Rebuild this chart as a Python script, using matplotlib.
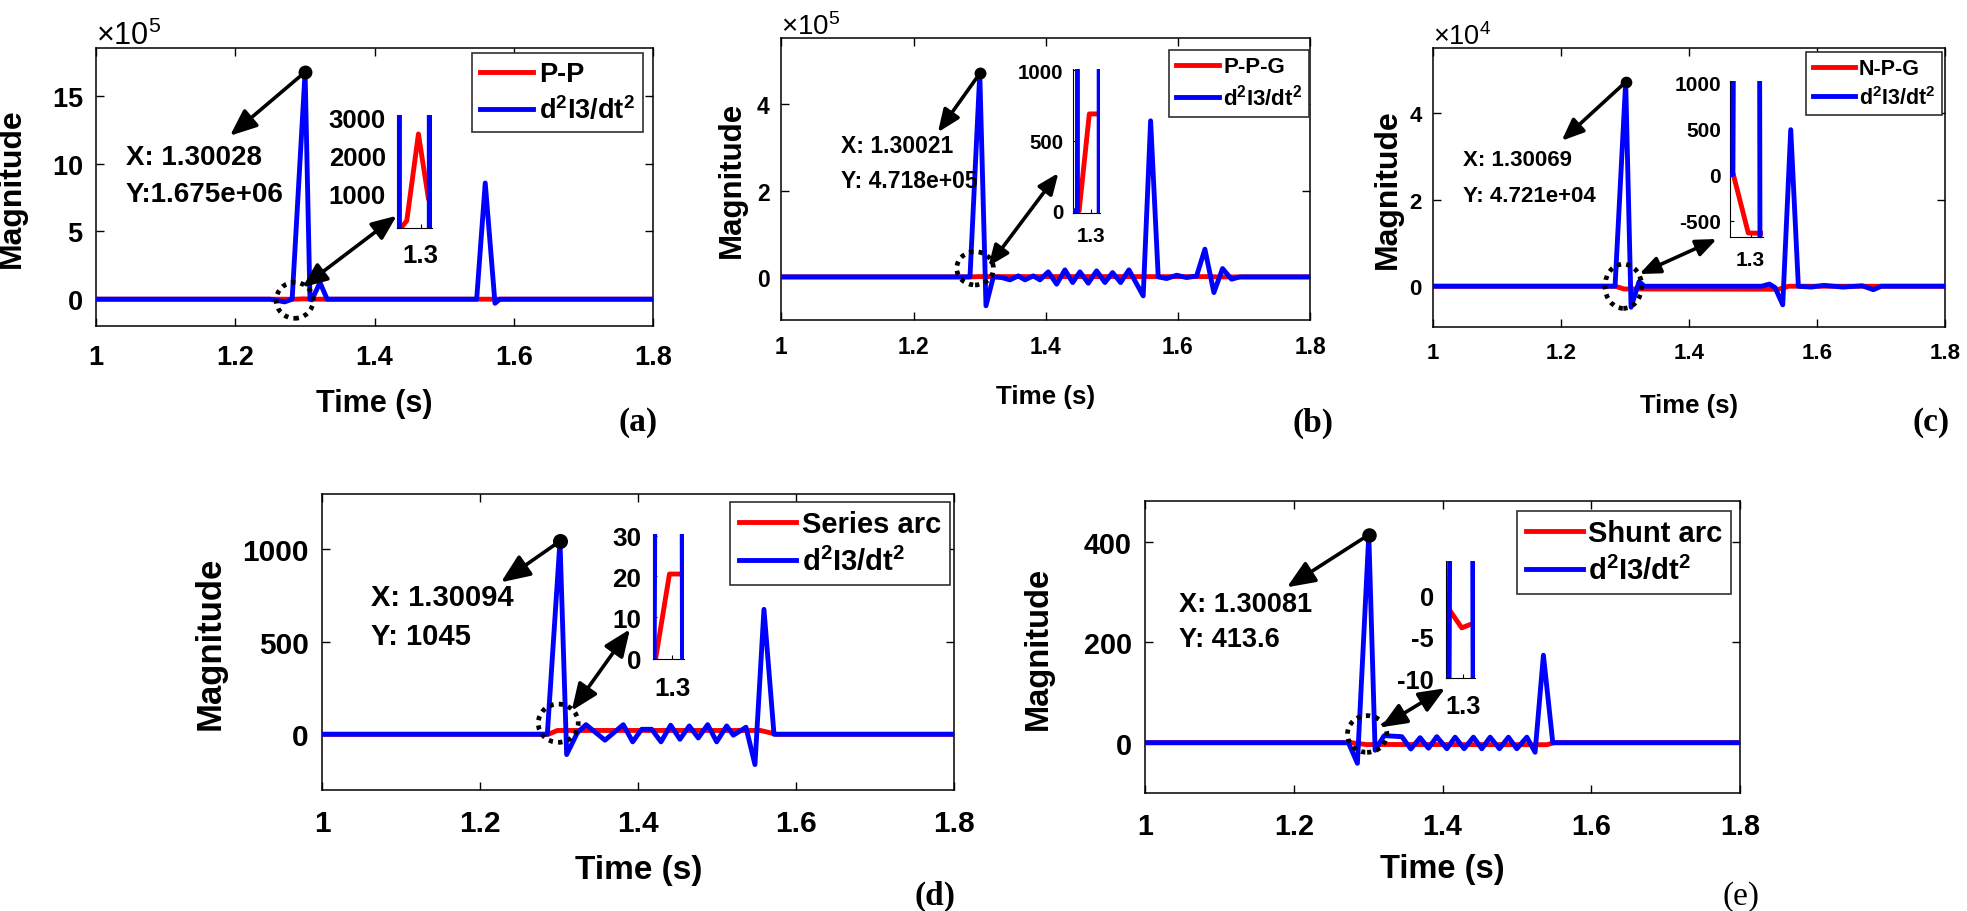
import matplotlib
matplotlib.use("Agg")
import numpy as np
import matplotlib.pyplot as plt
from matplotlib.patches import Ellipse
from matplotlib.ticker import ScalarFormatter, FuncFormatter

plt.rcParams["font.family"] = ["Liberation Sans", "DejaVu Sans"]
plt.rcParams["font.weight"] = "bold"
plt.rcParams["mathtext.default"] = "regular"
plt.rcParams["axes.unicode_minus"] = False

# ---------------- data ----------------
# (a) P-P fault
a_red_t = [1.0, 1.2800, 1.2880, 1.2980, 1.3066, 1.3150, 1.3300, 1.8]
a_red_v = [0, 0, 303, 2566, 870, 400, 0, 0]
a_blue_t = [1.0, 1.2500, 1.2710, 1.2817, 1.30028, 1.3073, 1.3100, 1.3217, 1.3320,
            1.5467, 1.5590, 1.5730, 1.5800, 1.8]
a_blue_v = [0, 0, -0.2e5, 0, 1.675e6, 0, -0.05e5, 1.23e5, 0,
            0, 8.57e5, -0.3e5, 0, 0]

# (b) P-P-G fault
b_red_t = [1.0, 1.2872, 1.2980, 1.6500, 1.6600, 1.8]
b_red_v = [0, 0, 690, 690, 0, 0]
b_blue_t = [1.0, 1.2854, 1.30021, 1.3096, 1.3207, 1.3333, 1.3459, 1.3584, 1.3686,
            1.3811, 1.3912, 1.4038, 1.4165, 1.4290, 1.4407, 1.4517, 1.4643, 1.4769,
            1.4895, 1.5011, 1.5132, 1.5258, 1.5474, 1.5586, 1.5701, 1.5828, 1.5979,
            1.6130, 1.6281, 1.6407, 1.6543, 1.6674, 1.6810, 1.6936, 1.8]
b_blue_v_1e5 = [0, 0, 4.718, -0.67, 0, -0.015, -0.069, 0.024, -0.069,
                0.024, -0.069, 0.117, -0.169, 0.163, -0.131, 0.117, -0.146, 0.140,
                -0.131, 0.101, -0.131, 0.163, -0.44, 3.62, 0, -0.038, 0.039,
                -0.015, 0.02, 0.643, -0.363, 0.194, -0.053, 0, 0]

# (c) N-P-G fault
c_red_t = [1.0, 1.2845, 1.2979, 1.5400, 1.5550, 1.8]
c_red_v = [0, 0, -633, -700, 0, 0]
c_blue_t = [1.0, 1.2841, 1.30069, 1.3091, 1.3216, 1.3300, 1.5132, 1.5252, 1.5340,
            1.5460, 1.5585, 1.5704, 1.5900, 1.6100, 1.6400, 1.6700, 1.6876, 1.7000, 1.8]
c_blue_v_1e4 = [0, 0, 4.721, -0.486, 0.107, 0, 0, 0.05, -0.03,
                -0.43, 3.62, 0, -0.02, 0.02, -0.02, 0.01, -0.08, 0, 0]

# (d) series arc
d_red_t = [1.0, 1.2862, 1.2977, 1.5550, 1.5750, 1.8]
d_red_v = [0, 0, 20.6, 20.6, 0, 0]
d_blue_t = [1.0, 1.2849, 1.30094, 1.3094, 1.3229, 1.3339, 1.3579, 1.3811, 1.3930,
            1.4044, 1.4171, 1.4289, 1.4411, 1.4529, 1.4647, 1.4761, 1.4880, 1.4994,
            1.5121, 1.5205, 1.5365, 1.5479, 1.5593, 1.5720, 1.8]
d_blue_v = [0, 0, 1045, -110, 8, 52, -32, 52, -41, 27, 27, -41, 49, -27, 45, -20,
            52, -41, 45, -5, 38, -164, 676, 0, 0]

# (e) shunt arc
e_red_t = [1.0, 1.2775, 1.2985, 1.3064, 1.5400, 1.5500, 1.8]
e_red_v = [0, 0, -3.9, -3.5, -4.0, 0, 0]
e_blue_t = [1.0, 1.2734, 1.2855, 1.30081, 1.3093, 1.3214, 1.3452, 1.3573, 1.3698,
            1.3810, 1.3922, 1.4057, 1.4168, 1.4289, 1.4414, 1.4527, 1.4639, 1.4764,
            1.4885, 1.4997, 1.5132, 1.5243, 1.5355, 1.5481, 1.8]
e_blue_v = [0, 0, -41, 413.6, -15, 14, 12, -12.5, 10, -11, 12, -12, 11, -12, 11,
            -12, 11, -12, 11, -12, 11, -19, 174, 0, 0]

faults = ["P-P", "P-P-G", "N-P-G", "Series arc", "Shunt arc"]
tip_x = [1.30028, 1.30021, 1.30069, 1.30094, 1.30081]
tip_y = [1.675e6, 4.718e5, 4.721e4, 1045, 413.6]
tip_txt = [("X: 1.30028", "Y:1.675e+06"), ("X: 1.30021", "Y: 4.718e+05"),
           ("X: 1.30069", "Y: 4.721e+04"), ("X: 1.30094", "Y: 1045"),
           ("X: 1.30081", "Y: 413.6")]
time_ticks = [1, 1.2, 1.4, 1.6, 1.8]

W, H = 1967, 912
fig = plt.figure(figsize=(W / 100, H / 100), dpi=100)
g = FuncFormatter(lambda v, p: f"{v:g}")


def draw_panel(rect, red, blue, k, ylim, yticks, sci, inset, ann, fs):
    ax = fig.add_axes(rect)
    ax.plot(*red, color="red", lw=3.5, label=faults[k], zorder=2)
    ax.plot(*blue, color="blue", lw=3.5, label="d$^2$I3/dt$^2$", zorder=3)
    ax.set_xlim(1, 1.8)
    ax.set_ylim(*ylim)
    ax.set_xticks(time_ticks)
    ax.xaxis.set_major_formatter(g)
    ax.set_yticks(yticks)
    for sp in ax.spines.values():
        sp.set_linewidth(1.1)
    ax.tick_params(direction="in", length=6, width=1, top=True, right=True,
                   labelsize=fs["tick"])
    ax.tick_params(axis="x", pad=13 * fs["s"])
    ax.tick_params(axis="y", pad=9 * fs["s"])
    if sci:
        fmt = ScalarFormatter(useMathText=True)
        fmt.set_powerlimits((sci, sci))
        ax.yaxis.set_major_formatter(fmt)
    else:
        ax.yaxis.set_major_formatter(g)
    off = ax.yaxis.get_offset_text()
    off.set_fontsize(fs["off"])
    off.set_fontweight("normal")

    ax.set_xlabel("Time (s)", fontsize=fs["lab"], fontweight="bold")
    ax.set_ylabel("Magnitude", fontsize=fs["ylab"], fontweight="bold")
    ax.xaxis.set_label_coords(0.5, ann["xlab"])
    ax.xaxis.label.set_va("center")
    ax.yaxis.set_label_coords(ann["ylab"], 0.5)
    ax.yaxis.label.set_va("center")

    # data tip
    head = "-|>,head_length=0.6,head_width=0.25"
    ax.plot([tip_x[k]], [tip_y[k]], "o", color="k", ms=9 * fs["s"], zorder=6, clip_on=False)
    ax.annotate("", xy=ann["head"], xycoords="axes fraction",
                xytext=(tip_x[k], tip_y[k]), textcoords="data",
                arrowprops=dict(arrowstyle=head, color="k", lw=2.6,
                                mutation_scale=27 * fs["s"], shrinkA=0, shrinkB=0))
    tx, ty1, ty2 = ann["txt"]
    ax.text(tx, ty1, tip_txt[k][0], transform=ax.transAxes, ha="left", va="center",
            fontsize=fs["tip"])
    ax.text(tx, ty2, tip_txt[k][1], transform=ax.transAxes, ha="left", va="center",
            fontsize=fs["tip"])

    # dotted circle + link arrow to the zoom
    cx, cy, ew, eh = ann["ell"]
    ax.add_patch(Ellipse((cx, cy), ew, eh, transform=ax.transAxes, fill=False,
                         ec="k", lw=3.4, ls=(0, (0.9, 1.1)), zorder=7, clip_on=False))
    ax.annotate("", xy=ann["link"][1], xycoords="axes fraction",
                xytext=ann["link"][0], textcoords="axes fraction",
                arrowprops=dict(arrowstyle="<|-|>,head_length=0.6,head_width=0.25",
                                color="k", lw=2.6, mutation_scale=25 * fs["s"],
                                shrinkA=0, shrinkB=0))

    leg = ax.legend(loc="upper right", bbox_to_anchor=ann["leg"], borderaxespad=0,
                    fontsize=fs["leg"], handlelength=1.95, handletextpad=0.2,
                    borderpad=0.3, labelspacing=0.3, fancybox=False,
                    edgecolor="#303030", framealpha=1)
    leg.get_frame().set_linewidth(1.2)

    # zoomed inset around t = 1.3
    irect, ixlim, iylim, iyticks = inset
    ins = fig.add_axes(irect)
    ins.patch.set_alpha(0)
    ins.plot(*red, color="red", lw=3.5, zorder=2)
    ins.plot(*blue, color="blue", lw=3.5, zorder=3)
    ins.set_xlim(*ixlim)
    ins.set_ylim(*iylim)
    ins.set_xticks([1.3])
    ins.xaxis.set_major_formatter(g)
    ins.set_yticks(iyticks)
    ins.yaxis.set_major_formatter(g)
    ins.spines["top"].set_visible(False)
    ins.spines["right"].set_visible(False)
    ins.tick_params(direction="in", length=3, width=0.8, labelsize=fs["ins"])
    ins.tick_params(axis="x", pad=11 * fs["s"])
    ins.tick_params(axis="y", pad=8 * fs["s"])
    return ax


top = dict(s=1.0, tick=19.5, lab=22, ylab=23, leg=19.5, tip=20, ins=18.5, off=22)
draw_panel([0.0488, 0.6411, 0.2832, 0.3048], (a_red_t, a_red_v), (a_blue_t, a_blue_v), 0,
           (-2e5, 1.85e6), [0, 5e5, 10e5, 15e5], 5,
           ([0.2017, 0.7492, 0.0178, 0.1236], (1.27938, 1.30944), (120, 3060), [1000, 2000, 3000]),
           dict(xlab=-0.276, ylab=-0.151, head=(0.2406, 0.6856), txt=(0.0539, 0.609, 0.4759),
                ell=(0.3567, 0.0935, 0.0664, 0.1295), link=((0.3704, 0.1403), (0.5399, 0.3978)),
                leg=(0.9815, 0.983)),
           top)

fs_b = dict(s=0.84, tick=16.4, lab=18.7, ylab=22.5, leg=16, tip=16.5, ins=14.8, off=20)
draw_panel([0.3972, 0.6480, 0.2689, 0.3087], (b_red_t, b_red_v),
           (b_blue_t, np.array(b_blue_v_1e5) * 1e5), 1,
           (-1e5, 5.53e5), [0, 2e5, 4e5], 5,
           ([0.5453, 0.7654, 0.0139, 0.1579], (1.28028, 1.30928), (-15, 1010), [0, 500, 1000]),
           dict(xlab=-0.269, ylab=-0.094, head=(0.2961, 0.6668), txt=(0.1131, 0.6192, 0.4949),
                ell=(0.3664, 0.1837, 0.0694, 0.1183), link=((0.3916, 0.1908), (0.5239, 0.5222)),
                leg=(0.998, 0.96)),
           fs_b)

fs_c = dict(s=0.82, tick=16, lab=18.5, ylab=23, leg=15.5, tip=16, ins=15, off=19.5)
draw_panel([0.7286, 0.6400, 0.2604, 0.3059], (c_red_t, c_red_v),
           (c_blue_t, np.array(c_blue_v_1e4) * 1e4), 2,
           (-0.95e4, 5.5e4), [0, 2e4, 4e4], 4,
           ([0.8795, 0.7387, 0.0169, 0.1717], (1.28146, 1.31136), (-680, 1017), [-500, 0, 500, 1000]),
           dict(xlab=-0.278, ylab=-0.0886, head=(0.2509, 0.6688), txt=(0.0582, 0.6032, 0.4717),
                ell=(0.3713, 0.1473, 0.0717, 0.1588), link=((0.4026, 0.191), (0.5537, 0.3165)),
                leg=(0.993, 0.988)),
           fs_c)

fs_d = dict(s=1.09, tick=21.5, lab=24, ylab=25, leg=21, tip=21, ins=18.8, off=17)
draw_panel([0.1639, 0.1330, 0.3211, 0.3242], (d_red_t, d_red_v), (d_blue_t, d_blue_v), 3,
           (-300, 1300), [0, 500, 1000], None,
           ([0.3321, 0.2763, 0.0158, 0.1371], (1.28412, 1.31015), (-0.2, 30.4), [0, 10, 20, 30]),
           dict(xlab=-0.27, ylab=-0.178, head=(0.2827, 0.7014), txt=(0.0768, 0.6507, 0.5208),
                ell=(0.3734, 0.2249, 0.0633, 0.1295), link=((0.3947, 0.2672), (0.4869, 0.5426)),
                leg=(0.9935, 0.974)),
           fs_d)

fs_e = dict(s=1.05, tick=20.7, lab=23.5, ylab=23.5, leg=21, tip=19.5, ins=18.3, off=17)
draw_panel([0.5821, 0.1294, 0.3026, 0.3198], (e_red_t, e_red_v), (e_blue_t, e_blue_v), 4,
           (-100, 480), [0, 200, 400], None,
           ([0.7350, 0.2551, 0.0149, 0.1289], (1.28335, 1.3111), (-10, 4.2), [-10, -5, 0]),
           dict(xlab=-0.26, ylab=-0.179, head=(0.2384, 0.7052), txt=(0.057, 0.6479, 0.5279),
                ell=(0.3732, 0.2023, 0.066, 0.1258), link=((0.3962, 0.2252), (0.5042, 0.3589)),
                leg=(0.9852, 0.968)),
           fs_e)

# sub-figure letters
for txt, x, y, wt in [("(a)", 658, 423, "bold"), ("(b)", 1334, 423, "bold"),
                      ("(c)", 1950, 423, "bold"), ("(d)", 955, 896, "bold"),
                      ("(e)", 1759, 897, "normal")]:
    fig.text(x / W, 1 - y / H, txt, ha="right", va="center", fontsize=24,
             family="Liberation Serif", fontweight=wt)

fig.savefig("out.png", dpi=100)
